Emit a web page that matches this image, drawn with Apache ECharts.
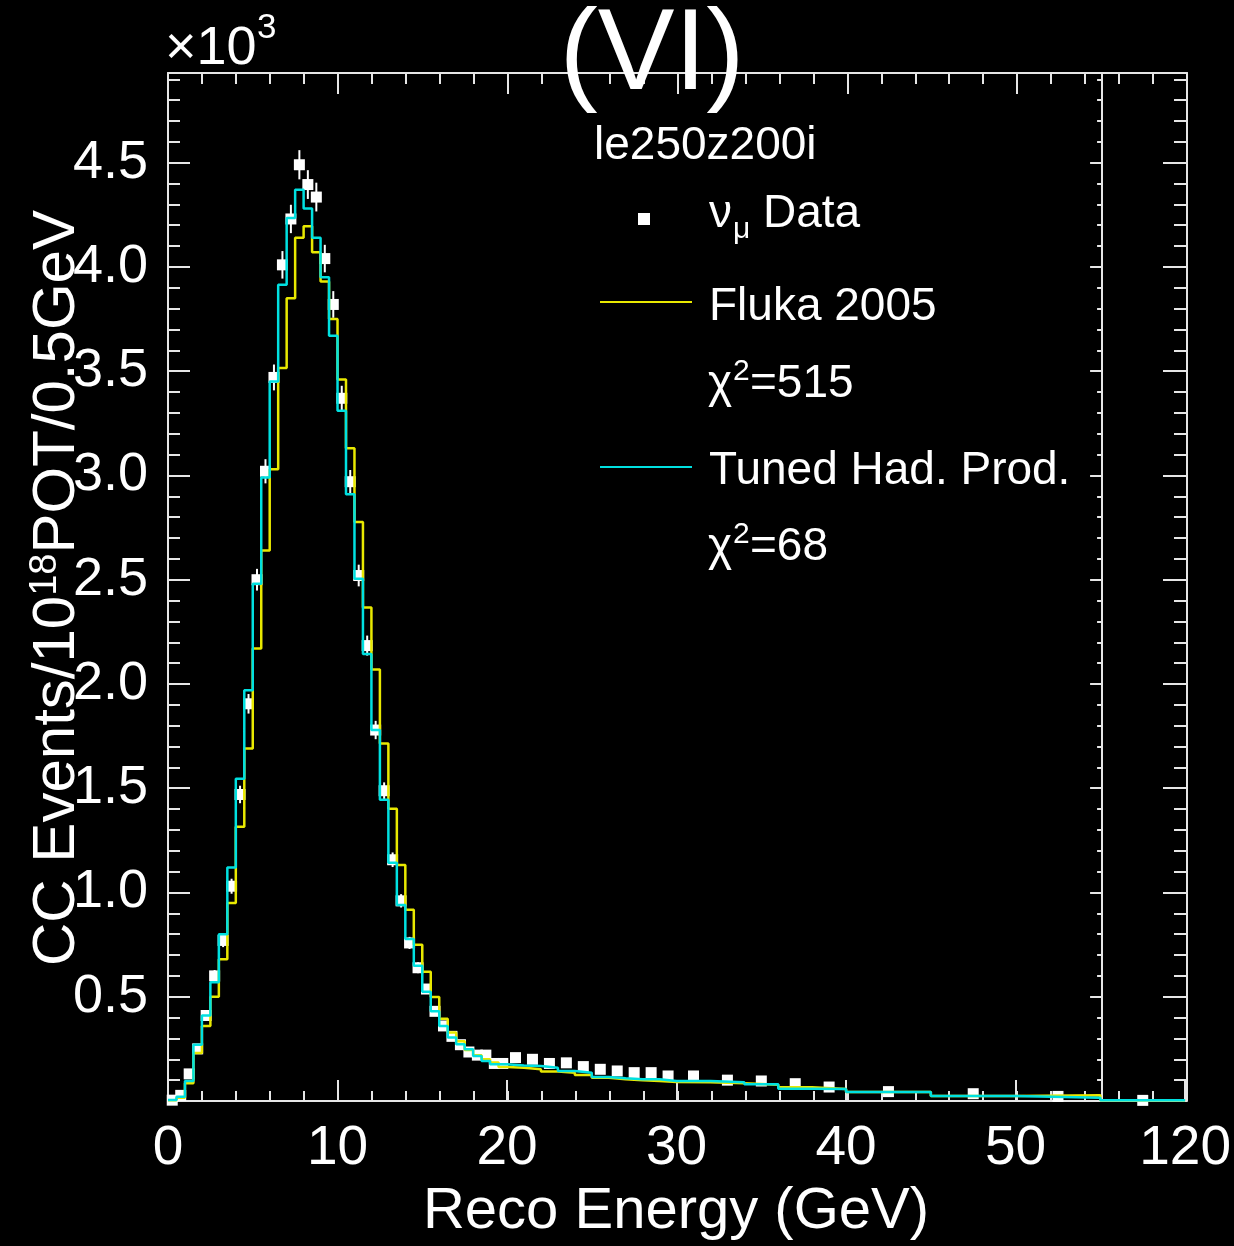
<!DOCTYPE html>
<html>
<head>
<meta charset="utf-8">
<script src="https://cdn.jsdelivr.net/npm/echarts@6/dist/echarts.min.js"></script>
<style>
html,body{margin:0;padding:0;background:#000;}
#chart{width:1234px;height:1246px;}
</style>
</head>
<body>
<div id="chart"></div>
<script>
// ---- data (values in units of 10^3 events / 1e18 POT / 0.5 GeV) ----
const binEdges = [0,0.5,1,1.5,2,2.5,3,3.5,4,4.5,5,5.5,6,6.5,7,7.5,8,8.5,9,9.5,
  10,10.5,11,11.5,12,12.5,13,13.5,14,14.5,15,15.5,16,16.5,17,17.5,18,18.5,19,19.5,
  20,21,22,23,24,25,26,27,28,29,30,32,34,36,38,40,45,50,55,120];

const tunedHadProd = [0.005,0.02,0.096,0.27,0.41,0.57,0.80,1.12,1.545,1.97,
  2.48,2.99,3.45,3.915,4.235,4.37,4.28,4.14,3.95,3.67,
  3.31,2.91,2.505,2.144,1.779,1.445,1.142,0.94,0.777,0.649,
  0.524,0.43,0.36,0.304,0.272,0.248,0.216,0.192,0.176,0.176,
  0.17,0.168,0.16,0.144,0.136,0.115,0.109,0.104,0.104,0.096,
  0.096,0.09,0.08,0.059,0.058,
  0.043,0.024,0.016,
  0.003];

const fluka2005 = [0.003,0.015,0.085,0.23,0.36,0.50,0.68,0.95,1.315,1.69,
  2.17,2.64,3.03,3.515,3.85,4.14,4.195,4.07,3.93,3.75,
  3.46,3.13,2.777,2.367,2.069,1.714,1.401,1.132,0.917,0.749,
  0.62,0.499,0.394,0.328,0.286,0.245,0.22,0.2,0.185,0.163,
  0.16,0.152,0.141,0.136,0.125,0.112,0.104,0.099,0.096,0.091,
  0.09,0.085,0.078,0.066,0.058,
  0.043,0.024,0.027,
  0.003];

const numuData = [0.004,0.027,0.13,0.25,0.41,0.60,0.77,1.03,1.47,1.905,
  2.50,3.02,3.47,4.01,4.23,4.49,4.395,4.335,4.04,3.82,
  3.37,2.97,2.52,2.184,1.779,1.488,1.157,0.96,0.758,0.639,
  0.537,0.43,0.36,0.31,0.27,0.235,0.22,0.22,0.18,0.18,
  0.208,0.2,0.18,0.183,0.165,0.152,0.144,0.136,0.136,0.12,
  0.12,0.10,0.096,0.083,0.067,
  0.045,0.035,0.022,
  0.003];

const numuDataErr = [0.003,0.008,0.015,0.02,0.025,0.028,0.032,0.036,0.042,0.047,
  0.052,0.058,0.062,0.066,0.068,0.07,0.069,0.069,0.066,0.064,
  0.06,0.056,0.052,0.048,0.044,0.04,0.035,0.032,0.029,0.026,
  0.024,0.022,0.02,0.018,0.017,0.016,0.015,0.015,0.014,0.014,
  0.01,0.01,0.01,0.01,0.009,0.009,0.009,0.009,0.009,0.008,
  0.006,0.006,0.006,0.005,0.005,
  0.003,0.003,0.002,
  0.001];

const xTickLabels = {0:'0',10:'10',20:'20',30:'30',40:'40',50:'50',60:'120'};
const Y_MAX = 4.93;

// axis break: 0-55 GeV linear, 55-120 GeV compressed into 55-60
const BREAK = 55, BREAK_SPAN = 5, X_END = 120;
function toAxis(e){ return e <= BREAK ? e : BREAK + (e - BREAK) * BREAK_SPAN / (X_END - BREAK); }

function stepData(vals){
  const d = vals.map((v,i)=>[toAxis(binEdges[i]), v]);
  d.push([toAxis(binEdges[binEdges.length-1]), vals[vals.length-1]]);
  return d;
}
const pointData = numuData.map((v,i)=>[toAxis((binEdges[i]+binEdges[i+1])/2), v, numuDataErr[i]]);

const FONT = "'Liberation Sans', Arial, Helvetica, sans-serif";
const LINE = '#e6e6e6';

function xAx(grid, pos, max, interval, len, showLine, showLabel){
  return {
    type:'value', gridIndex:grid, position:pos, min:0, max:max, interval:interval,
    splitLine:{show:false},
    axisLine:{show:showLine, onZero:false, lineStyle:{color:LINE, width:2}},
    axisTick:{show:len > 0, inside:true, length:len, lineStyle:{color:LINE, width:2}},
    axisLabel:{show:showLabel, color:'#fff', fontSize:55, fontFamily:FONT, margin:20,
      formatter:(v)=> (xTickLabels[v] !== undefined ? xTickLabels[v] : '')}
  };
}
function yAx(grid, pos, interval, len, showLine, showLabel){
  return {
    type:'value', gridIndex:grid, position:pos, min:0, max:Y_MAX, interval:interval,
    splitLine:{show:false},
    axisLine:{show:showLine, onZero:false, lineStyle:{color:LINE, width:2}},
    axisTick:{show:true, inside:true, length:len, lineStyle:{color:LINE, width:2}},
    axisLabel:{show:showLabel, color:'#fff', fontSize:54, fontFamily:FONT, margin:20, showMaxLabel:false,
      formatter:(v)=> (v === 0 ? '' : v.toFixed(1))}
  };
}

const chart = echarts.init(document.getElementById('chart'), null, {renderer:'canvas'});
const plotW = 1187 - 168;
function fullGrid(){ return {left:168, right:47, top:73, bottom:145}; }
function breakGrid(){ return {left:168, width: plotW * BREAK / 60, top:73, bottom:145}; }
chart.setOption({
  backgroundColor:'#000',
  animation:false,
  grid:[fullGrid(), fullGrid(), fullGrid(), fullGrid(), breakGrid(), breakGrid()],
  xAxis:[
    xAx(0,'bottom',60,10,21,true,true),
    xAx(1,'bottom',60,2,10,false,false),
    xAx(2,'top',60,10,21,true,false),
    xAx(3,'top',60,2,11,false,false),
    xAx(4,'bottom',BREAK,5,0,false,false),
    xAx(5,'bottom',BREAK,5,0,false,false)
  ],
  yAxis:[
    yAx(0,'left',0.5,22,true,true),
    yAx(1,'left',0.1,12,false,false),
    yAx(2,'right',0.5,24,true,false),
    yAx(3,'right',0.1,13,false,false),
    yAx(4,'right',0.5,12,true,false),
    yAx(5,'right',0.1,5,false,false)
  ],
  series:[
    {
      name:'errors', type:'custom', xAxisIndex:0, yAxisIndex:0, z:2,
      data: pointData,
      renderItem:(params, api)=>{
        const x = api.value(0), y = api.value(1), e = api.value(2);
        const p1 = api.coord([x, y - e]), p2 = api.coord([x, y + e]);
        return {type:'line', shape:{x1:p1[0], y1:p1[1], x2:p2[0], y2:p2[1]},
          style:{stroke:'#fff', lineWidth:2}};
      }
    },
    {
      name:'νμ Data', type:'scatter', xAxisIndex:0, yAxisIndex:0, z:3,
      symbol:'rect', symbolSize:11, itemStyle:{color:'#fff', opacity:1},
      data: pointData.map(p=>[p[0], p[1]])
    },
    {
      name:'Fluka 2005', type:'line', step:'end', xAxisIndex:0, yAxisIndex:0, z:4,
      showSymbol:false, lineStyle:{color:'#e8e800', width:2.5}, itemStyle:{color:'#e8e800'},
      data: stepData(fluka2005)
    },
    {
      name:'Tuned Had. Prod.', type:'line', step:'end', xAxisIndex:0, yAxisIndex:0, z:5,
      showSymbol:false, lineStyle:{color:'#00e0e0', width:2.5}, itemStyle:{color:'#00e0e0'},
      data: stepData(tunedHadProd)
    }
  ],
  graphic:[
    {type:'text', x:652, y:57, z:100, style:{text:'(VI)', fill:'#fff', font:'115px '+FONT, align:'center', verticalAlign:'middle'}},
    {type:'text', x:165, y:49, z:100, style:{text:'×10', fill:'#fff', font:'54px '+FONT, align:'left', verticalAlign:'middle'}},
    {type:'text', x:257, y:28, z:100, style:{text:'3', fill:'#fff', font:'35px '+FONT, align:'left', verticalAlign:'middle'}},
    {type:'text', x:676, y:1212, z:100, style:{text:'Reco Energy (GeV)', fill:'#fff', font:'58px '+FONT, align:'center', verticalAlign:'middle'}},
    {type:'text', x:57, y:588, rotation:Math.PI/2, z:1, style:{
      text:'{m|CC Events/10}{s|18}{m|POT/0.5GeV}', align:'center', verticalAlign:'middle',
      rich:{m:{fontSize:60, lineHeight:60, fontFamily:FONT, fill:'#fff', color:'#fff'},
            s:{fontSize:38, lineHeight:38, fontFamily:FONT, fill:'#fff', color:'#fff', verticalAlign:'top'}}
    }},
    // legend
    {type:'text', x:594, y:146, z:100, style:{text:'le250z200i', fill:'#fff', font:'46px '+FONT, align:'left', verticalAlign:'middle'}},
    {type:'rect', z:100, shape:{x:638, y:213, width:12, height:12}, style:{fill:'#fff'}},
    {type:'text', x:709, y:214, z:100, style:{text:'ν', fill:'#fff', font:'46px '+FONT, align:'left', verticalAlign:'middle'}},
    {type:'text', x:733, y:230, z:100, style:{text:'μ', fill:'#fff', font:'30px '+FONT, align:'left', verticalAlign:'middle'}},
    {type:'text', x:763, y:214, z:100, style:{text:'Data', fill:'#fff', font:'46px '+FONT, align:'left', verticalAlign:'middle'}},
    {type:'line', z:100, shape:{x1:600, y1:302, x2:692, y2:302}, style:{stroke:'#e8e800', lineWidth:2}},
    {type:'text', x:709, y:307, z:100, style:{text:'Fluka 2005', fill:'#fff', font:'46px '+FONT, align:'left', verticalAlign:'middle'}},
    {type:'text', x:708, y:384, z:100, style:{text:'χ', fill:'#fff', font:'46px '+FONT, align:'left', verticalAlign:'middle'}},
    {type:'text', x:733, y:372, z:100, style:{text:'2', fill:'#fff', font:'30px '+FONT, align:'left', verticalAlign:'middle'}},
    {type:'text', x:750, y:384, z:100, style:{text:'=515', fill:'#fff', font:'46px '+FONT, align:'left', verticalAlign:'middle'}},
    {type:'line', z:100, shape:{x1:600, y1:467, x2:692, y2:467}, style:{stroke:'#00e0e0', lineWidth:2}},
    {type:'text', x:709, y:471, z:100, style:{text:'Tuned Had. Prod.', fill:'#fff', font:'46px '+FONT, align:'left', verticalAlign:'middle'}},
    {type:'text', x:708, y:547, z:100, style:{text:'χ', fill:'#fff', font:'46px '+FONT, align:'left', verticalAlign:'middle'}},
    {type:'text', x:733, y:535, z:100, style:{text:'2', fill:'#fff', font:'30px '+FONT, align:'left', verticalAlign:'middle'}},
    {type:'text', x:750, y:547, z:100, style:{text:'=68', fill:'#fff', font:'46px '+FONT, align:'left', verticalAlign:'middle'}}
  ]
});
</script>
</body>
</html>
